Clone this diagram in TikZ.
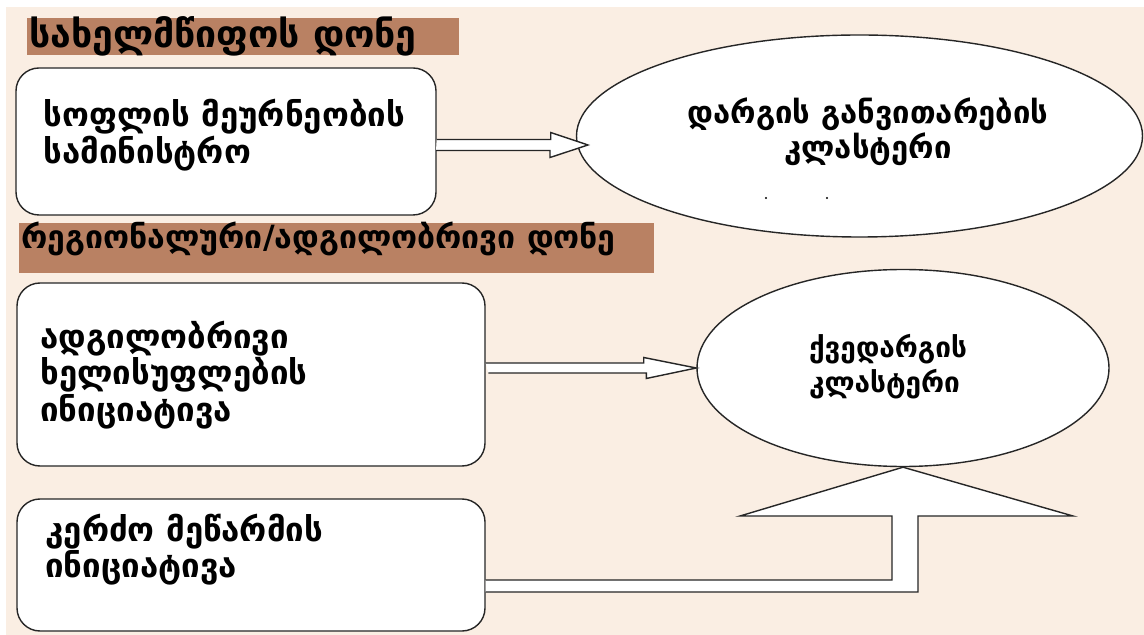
\documentclass[tikz,border=0pt]{standalone}
\usepackage{fontspec}
\setmainfont{DejaVu Sans}
\usetikzlibrary{shapes.geometric}
\definecolor{cream}{RGB}{250,238,227}
\definecolor{banner}{RGB}{185,129,99}

\begin{document}
\begin{tikzpicture}[x=0.5pt, y=-0.5pt,
    levelbar/.style={fill=banner, inner sep=0pt},
    bartext/.style={anchor=west, inner sep=0pt, font=\bfseries\fontsize{18.7}{19}\selectfont},
    unitbox/.style={draw=black!85, line width=0.7pt, fill=white, rounded corners=11.5pt, inner sep=0pt},
    boxtext/.style={anchor=west, align=left, inner sep=0pt, font=\bfseries\fontsize{16.5}{#1}\selectfont},
    cluster/.style={draw=black!85, line width=0.7pt, fill=white, ellipse, inner sep=0pt},
    clustertext/.style={inner sep=0pt, font=\bfseries\fontsize{15.5}{17.5}\selectfont},
    hollow/.style={draw=black!85, line width=0.7pt, fill=white, line join=miter}]

    \useasboundingbox (0,0) rectangle (1144,635);
    % page background
    \fill[white] (0,0) rectangle (1144,635);
    \fill[cream] (6,7) rectangle (1144,635);

    % level headings
    \node[levelbar, minimum width=216pt, minimum height=18.5pt] (lvl1) at (243,36.5) {};
    \node[bartext] (lvl1txt) at (29,36) {სახელმწიფოს დონე};
    \node[levelbar, minimum width=317.5pt, minimum height=25pt] (lvl2) at (336.5,248) {};
    \node[bartext, font=\bfseries\fontsize{16}{16}\selectfont] (lvl2txt) at (21,239) {რეგიონალური/ადგილობრივი დონე};

    % state level
    \node[unitbox, minimum width=210pt, minimum height=73.5pt] (ministry) at (226,141.5) {};
    \node[boxtext=16] (ministrytxt) at (43,135) {სოფლის მეურნეობის\\სამინისტრო};
    \node[cluster, minimum width=283pt, minimum height=101pt] (sector) at (859.5,136) {};
    \node[clustertext, align=center] (sectortxt) at (868,132) {დარგის განვითარების\\კლასტერი};
    \fill (766,198) circle (0.6pt);
    \fill (827,198) circle (0.6pt);

    % regional / local level
    \node[unitbox, minimum width=234pt, minimum height=91.5pt] (localgov) at (251,374.5) {};
    \node[boxtext=17] (localgovtxt) at (40,375) {ადგილობრივი\\ხელისუფლების\\ინიციატივა};
    \node[unitbox, minimum width=234pt, minimum height=66pt] (private) at (251,565) {};
    \node[boxtext=14.5] (privatetxt) at (45,549.5) {კერძო მეწარმის\\ინიციატივა};
    \node[cluster, minimum width=206pt, minimum height=98.5pt] (subsector) at (903,368) {};
    \node[clustertext, align=left, font=\bfseries\fontsize{14}{17.5}\selectfont] (subsectortxt) at (888,367) {ქვედარგის\\კლასტერი};

    % hollow arrows
    \coordinate (t1) at (588,145);
    \draw[hollow] (ministry.east |- t1) ++(0,-5.5) -- ++(114,0) -- ++(0,-7) -- (t1)
        -- ++(-38,12.5) -- ++(0,-7) -- ++(-114,0);
    \coordinate (t2) at (subsector.west);
    \draw[hollow] (localgov.east |- t2) ++(0,-5) -- ++(158,0) -- ++(0,-5.5) -- (t2)
        -- ++(-50,10.5) -- ++(0,-5.5) -- ++(-158,0);
    \draw[hollow] (private.east |- 0,580) -- (892,580) -- (892,516) -- (740,516)
        -- (subsector.south) -- (1073,516) -- (918,516) -- (918,592) -- (private.east |- 0,592);
\end{tikzpicture}
\end{document}
